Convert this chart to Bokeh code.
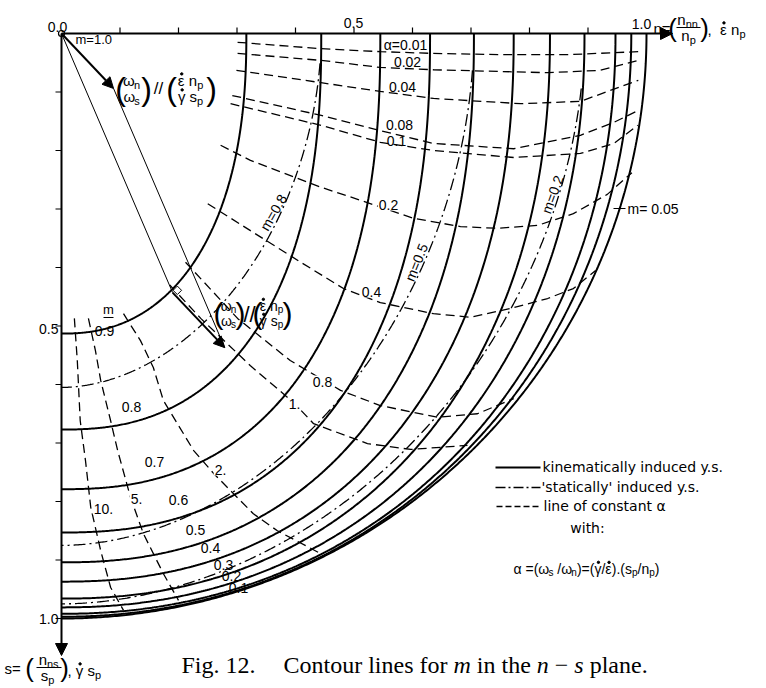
import numpy as np
from bokeh.plotting import figure
from bokeh.models import Range1d, Arrow, NormalHead, Label
from bokeh.core.properties import value
from bokeh.embed import file_html
from bokeh.resources import INLINE

# ---------------------------------------------------------------- data ----
# kinematically induced yield surfaces: m, intercept on n axis, intercept on s axis, shape exponent
m_kin = [0.9, 0.8, 0.7, 0.6, 0.5, 0.4, 0.3, 0.2, 0.1, 0.05, 0.0]
n0_kin = [0.316, 0.444, 0.545, 0.630, 0.705, 0.773, 0.835, 0.894, 0.947, 0.974, 1.0]
s0_kin = [0.513, 0.677, 0.779, 0.853, 0.904, 0.937, 0.966, 0.981, 0.992, 0.997, 1.0]
shape_kin = [2.3, 2.4, 2.4, 2.35, 2.3, 2.25, 2.2, 2.15, 2.1, 2.05, 2.0]

# 'statically' induced yield surfaces (leave the kinematic curve at s_split)
m_sta = [0.8, 0.5, 0.2]
n0_sta = [0.444, 0.705, 0.894]
s0_sta = [0.605, 0.875, 0.975]
s_split = [0.051, 0.063, 0.094]
shape_sta = [1.9, 1.9, 1.9]

# lines of constant alpha, traced point by point (n, s)
alpha_text = ["α=0.01", "0.02", "0.04", "0.08", "0.1", "0.2", "0.4", "0.8", "1.", "2.", "5.", "10."]
alpha_n = [
    [0.301, 0.444, 0.545, 0.634, 0.750, 0.870, 0.986],
    [0.301, 0.444, 0.545, 0.636, 0.831, 0.921, 0.986],
    [0.299, 0.409, 0.545, 0.636, 0.785, 0.887, 0.986],
    [0.292, 0.444, 0.545, 0.636, 0.773, 0.887, 0.944, 0.985],
    [0.289, 0.444, 0.545, 0.636, 0.773, 0.887, 0.944, 0.985],
    [0.272, 0.323, 0.444, 0.511, 0.602, 0.682, 0.745, 0.814, 0.875, 0.933, 0.975],
    [0.250, 0.323, 0.409, 0.482, 0.545, 0.636, 0.699, 0.768, 0.831, 0.875, 0.913],
    [0.212, 0.301, 0.391, 0.477, 0.545, 0.643, 0.711, 0.773],
    [0.185, 0.238, 0.323, 0.397, 0.431, 0.523, 0.597, 0.694],
    [0.106, 0.135, 0.157, 0.174, 0.226, 0.260, 0.328, 0.369, 0.443],
    [0.046, 0.058, 0.067, 0.084, 0.096, 0.118, 0.140, 0.174, 0.200],
    [0.022, 0.027, 0.032, 0.041, 0.050, 0.067, 0.084, 0.106],
]
alpha_s = [
    [0.015, 0.026, 0.031, 0.034, 0.036, 0.036, 0.031],
    [0.034, 0.046, 0.058, 0.062, 0.067, 0.063, 0.046],
    [0.063, 0.079, 0.099, 0.111, 0.120, 0.116, 0.080],
    [0.106, 0.140, 0.166, 0.188, 0.197, 0.174, 0.152, 0.132],
    [0.120, 0.157, 0.186, 0.200, 0.212, 0.205, 0.188, 0.157],
    [0.191, 0.217, 0.263, 0.285, 0.316, 0.330, 0.333, 0.328, 0.308, 0.275, 0.238],
    [0.291, 0.337, 0.391, 0.436, 0.460, 0.479, 0.485, 0.470, 0.453, 0.436, 0.405],
    [0.391, 0.487, 0.559, 0.610, 0.636, 0.656, 0.650, 0.624],
    [0.430, 0.487, 0.568, 0.631, 0.667, 0.701, 0.711, 0.704],
    [0.479, 0.525, 0.571, 0.627, 0.713, 0.752, 0.821, 0.850, 0.889],
    [0.487, 0.542, 0.593, 0.662, 0.713, 0.793, 0.855, 0.923, 0.969],
    [0.487, 0.559, 0.662, 0.730, 0.810, 0.884, 0.947, 0.986],
]

# normality sketch: strain-rate vector and the point where it is applied on m = 0.9
omega = (0.089, 0.094)
p_point = (0.190, 0.443)

n_ticks = [0.1, 0.2, 0.3, 0.4, 0.5, 0.6, 0.7, 0.8, 0.9]
s_ticks = [0.1, 0.2, 0.3, 0.4, 0.5, 0.6, 0.7, 0.8, 0.9, 1.0]

# ------------------------------------------------------------- canvas ----
W, H = 766, 688
PX = 585.0            # pixels per unit of n and s
OX, OY = 61.0, 33.0   # where n = s = 0 sits on the page

SANS = "Liberation Sans"
WIDE = "DejaVu Sans"
SERIF = "Liberation Serif"
NB = "\u00a0"


def N(x):
    return (x - OX) / PX


def S(y):
    return (y - OY) / PX


p = figure(width=W, height=H,
           x_range=Range1d(N(0), N(W)), y_range=Range1d(S(H), S(0)),
           output_backend="svg", toolbar_location=None, min_border=0,
           x_axis_location=None, y_axis_location=None,
           background_fill_color="white", border_fill_color="white")
p.grid.visible = False
p.outline_line_color = None


def superellipse(a, b, q, t0=0.0, num=400):
    t = np.linspace(t0, np.pi / 2, num)
    return a * np.cos(t) ** (2 / q), b * np.sin(t) ** (2 / q)


def txt(x, y, t, size=14, align="center", font=SANS, angle=0.0, style="normal",
        baseline="middle"):
    p.text(x=[N(x)], y=[S(y)], text=[t.replace(" ", NB)], text_font=value(font),
           text_font_size=f"{size}px", text_align=align, text_baseline=baseline,
           angle=angle, text_font_style=style, text_color="black")


def boxed(x, y, t, size=14):
    p.add_layout(Label(x=N(x), y=S(y), text=t, text_font=SANS, text_color="black",
                       text_font_size=f"{size}px", text_align="center",
                       text_baseline="middle", background_fill_color="white",
                       background_fill_alpha=1.0, padding=1))


def hline(xa, xb, y, w=1.2):
    p.segment(x0=[N(xa)], y0=[S(y)], x1=[N(xb)], y1=[S(y)], line_color="black", line_width=w)


# Arial-like advance widths (per 1000 em) for composing formulas piece by piece
ADV = {"n": 556, "s": 500, "p": 556, "m": 833, "=": 584, "(": 333, ")": 333, ",": 278,
       " ": 278, ".": 278, "/": 278, "ω": 720, "ε": 460, "γ": 500, "α": 580}


def width(t, size):
    return sum(ADV.get(c, 556) for c in t) * size / 1000.0


def rich(x, y, parts, size=14, align="left"):
    """parts: (text, role) with role 'b' plain, 's' subscript, 'd' letter with a dot above."""
    sub = 0.72 * size
    total = sum(width(t, sub if r == "s" else size) for t, r in parts)
    cx = x - (total / 2 if align == "center" else 0)
    for t, r in parts:
        if r == "s":
            txt(cx, y + 0.30 * size, t, round(sub), align="left")
            cx += width(t, sub)
        else:
            txt(cx, y, t, size, align="left")
            w = width(t, size)
            if r == "d":
                p.scatter(x=[N(cx + w / 2 + 0.5)], y=[S(y - 0.44 * size)], marker="circle",
                          size=2.4, color="black")
            cx += w


# ------------------------------------------------------------- curves ----
for a, b, q in zip(n0_kin, s0_kin, shape_kin):
    n, s = superellipse(a, b, q)
    p.line(n, s, line_color="black", line_width=2.0)

for a, b, q, ss in zip(n0_sta, s0_sta, shape_sta, s_split):
    t0 = np.arcsin((ss / b) ** (q / 2))
    n, s = superellipse(a, b, q, t0)
    p.line(n, s, line_color="black", line_width=1.3, line_dash="12 4 2 4")

for ns, ss in zip(alpha_n, alpha_s):
    p.line(ns, ss, line_color="black", line_width=1.3, line_dash="9 5")

# -------------------------------------------------------------- axes -----
p.add_layout(Arrow(end=NormalHead(size=12, fill_color="black", line_color="black"),
                   x_start=0, y_start=0, x_end=N(672), y_end=0,
                   line_width=2, line_color="black"))
p.add_layout(Arrow(end=NormalHead(size=12, fill_color="black", line_color="black"),
                   x_start=0, y_start=0, x_end=0, y_end=S(655),
                   line_width=2, line_color="black"))
p.segment(x0=n_ticks, y0=[0] * len(n_ticks), x1=n_ticks, y1=[-6 / PX] * len(n_ticks),
          line_color="black", line_width=1.2)
p.segment(x0=[0] * len(s_ticks), y0=s_ticks, x1=[-6 / PX] * len(s_ticks), y1=s_ticks,
          line_color="black", line_width=1.2)
p.scatter(x=[0], y=[0], marker="circle", size=6, fill_color="white",
          line_color="black", line_width=1.2)

txt(57, 26, "0.0", 14)
txt(353, 22, "0.5", 14)
txt(641, 23, "1.0", 14)
txt(58, 328, "0.5", 14, align="right")
txt(58, 618, "1.0", 14, align="right")

# n-axis title  n=(n_nn / n_p), ε̇ n_p
txt(653, 28, "n=", 15, align="left")
txt(672, 27, "(", 26)
rich(687, 19, [("n", "b"), ("nn", "s")], 15, align="center")
hline(676, 700, 27)
rich(688, 35, [("n", "b"), ("p", "s")], 15, align="center")
txt(704, 27, ")", 26)
rich(707, 29, [(",  ", "b"), ("ε", "d"), (" n", "b"), ("p", "s")], 15)

# s-axis title  s=(n_ns / s_p), γ̇ s_p
txt(4, 668, "s=", 15, align="left")
txt(29, 667, "(", 26)
rich(48, 659, [("n", "b"), ("ns", "s")], 15, align="center")
hline(36, 61, 667)
rich(47, 675, [("s", "b"), ("p", "s")], 15, align="center")
txt(64, 667, ")", 26)
rich(67, 670, [(", ", "b"), ("γ", "d"), (" s", "b"), ("p", "s")], 15)

# ------------------------------------------------- normality sketch -----
ox, oy = omega
px_, py_ = p_point
p.line([0, px_], [0, py_], line_color="black", line_width=1.0)
p.line([ox, px_ + ox], [oy, py_ + oy], line_color="black", line_width=1.0)
p.add_layout(Arrow(end=NormalHead(size=11, fill_color="black", line_color="black"),
                   x_start=0, y_start=0, x_end=ox, y_end=oy,
                   line_width=2, line_color="black"))
p.add_layout(Arrow(end=NormalHead(size=11, fill_color="black", line_color="black"),
                   x_start=px_, y_start=py_, x_end=px_ + ox, y_end=py_ + oy,
                   line_width=2, line_color="black"))
p.scatter(x=[px_ + 0.008], y=[py_ - 0.004], marker="square", size=6, angle=np.radians(45),
          fill_color="white", line_color="black", line_width=1.0)

txt(120, 88, "(", 32)
rich(131, 80, [("ω", "b"), ("n", "s")], 15, align="center")
rich(131, 96, [("ω", "b"), ("s", "s")], 15, align="center")
txt(146, 88, ")", 32)
txt(158, 88, "//", 17)
txt(171, 88, "(", 32)
rich(190, 80, [("ε", "d"), (" n", "b"), ("p", "s")], 15, align="center")
rich(190, 96, [("γ", "d"), (" s", "b"), ("p", "s")], 15, align="center")
txt(211, 88, ")", 32)

txt(218, 313, "(", 30)
rich(228, 305, [("ω", "b"), ("n", "s")], 14, align="center")
rich(228, 320, [("ω", "b"), ("s", "s")], 14, align="center")
txt(240, 313, ")", 30)
txt(249, 314, "//", 22)
txt(257, 313, "(", 30)
rich(271, 305, [("ε", "d"), (" n", "b"), ("p", "s")], 14, align="center")
rich(271, 320, [("γ", "d"), (" s", "b"), ("p", "s")], 14, align="center")
txt(287, 313, ")", 30)

txt(75, 39, "m=1.0", 13, align="left")

# ------------------------------------------------------- curve labels ----
txt(108, 309, "m", 13)
hline(103, 113, 317, 1.0)
txt(104, 330, "0.9", 14)
left_labels = [("0.8", 131, 406), ("0.7", 154, 461), ("0.6", 178, 499), ("0.5", 195, 529),
               ("0.4", 210, 547), ("0.3", 223, 564), ("0.2", 231, 575), ("0.1", 238, 587)]
for t, x, y in left_labels:
    txt(x, y, t, 14)

txt(273, 212, "m=0.8", 14, angle=np.radians(60))
txt(416, 262, "m=0.5", 14, angle=np.radians(68))
txt(552, 194, "m=0.2", 14, angle=np.radians(70))
hline(613, 625, 208)
txt(627, 208, "m= 0.05", 14, align="left")

# alpha labels
txt(405, 44, alpha_text[0], 14)
txt(407, 61, alpha_text[1], 14)
txt(402, 86, alpha_text[2], 14)
txt(399, 124, alpha_text[3], 14)
txt(396, 140, alpha_text[4], 14)
boxed(388, 204, alpha_text[5])
boxed(371, 291, alpha_text[6])
boxed(322, 381, alpha_text[7])
boxed(294, 403, alpha_text[8])
boxed(220, 469, alpha_text[9])
boxed(136, 498, alpha_text[10])
boxed(103, 508, alpha_text[11])

# -------------------------------------------------------------- legend ----
p.line([N(495), N(540)], [S(467), S(467)], line_color="black", line_width=2)
p.line([N(495), N(540)], [S(487), S(487)], line_color="black", line_width=1.3, line_dash="10 3 2 3")
p.line([N(496), N(540)], [S(506), S(506)], line_color="black", line_width=1.3, line_dash="6 3")
txt(542, 466, "kinematically induced y.s.", 14, align="left", font=WIDE)
txt(541, 486, "'statically' induced y.s.", 14, align="left", font=WIDE)
txt(543, 505, "line of constant α", 14, align="left", font=WIDE)
txt(587, 527, "with:", 14, font=WIDE)
rich(513, 568, [("α =(ω", "b"), ("s", "s"), (" /ω", "b"), ("n", "s"), (")=(", "b"),
                ("γ", "d"), ("/", "b"), ("ε", "d"), (").(s", "b"), ("p", "s"), ("/n", "b"),
                ("p", "s"), (")", "b")], 14)

# ------------------------------------------------------------- caption ----
# Times-like advance widths (per 1000 em) to lay out the mixed roman/italic caption
adv = {"F": 556, "i": 278, "g": 500, ".": 250, " ": 250, "1": 500, "2": 500, "C": 667,
       "o": 500, "n": 500, "t": 278, "u": 500, "r": 333, "l": 278, "e": 444, "s": 389,
       "f": 333, "m": 722, "h": 500, "p": 500, "a": 444, "−": 564}
CAP = 24
txt(181, 664, "Fig. 12.", CAP, align="left", font=SERIF)
pieces = [("Contour lines for ", "normal"), ("m", "italic"), (" in the ", "normal"),
          ("n", "italic"), (" − ", "normal"), ("s", "italic"), (" plane.", "normal")]
cx = 283.0
for t, st in pieces:
    txt(cx, 664, t, CAP, align="left", font=SERIF, style=st)
    cx += sum(adv.get(c, 500) for c in t) * CAP / 1000.0

open("out.html", "w").write(file_html(p, INLINE))
